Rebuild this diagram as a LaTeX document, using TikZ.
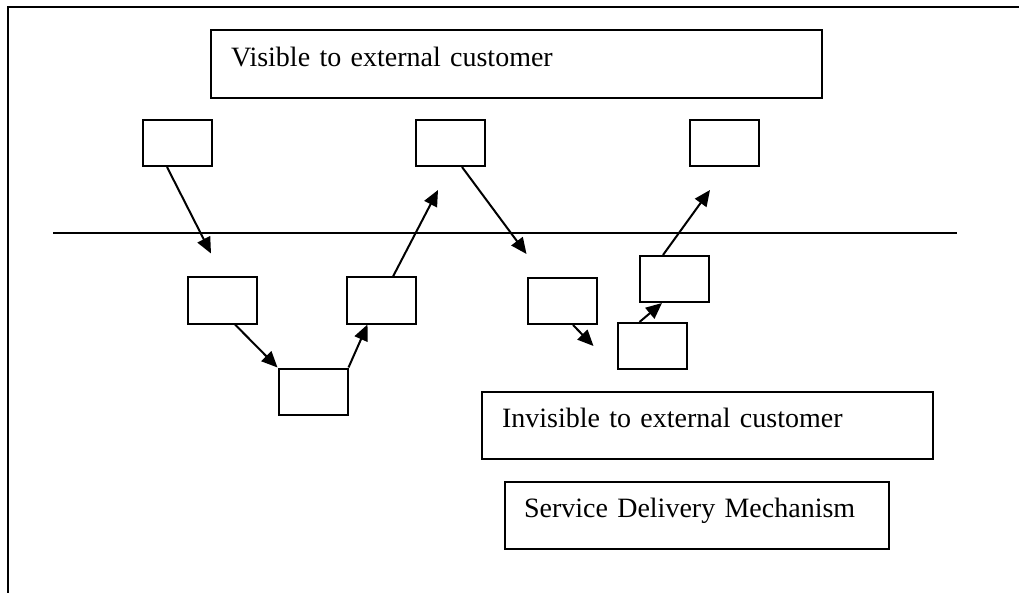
\documentclass[tikz,border=0pt]{standalone}
\usepackage{fontspec}
\setmainfont{Liberation Serif}
\usepackage{tikz}
\usetikzlibrary{arrows.meta, positioning, calc}

\begin{document}
\begin{tikzpicture}[
  x=1pt, y=-1pt,
  font=\fontsize{28}{32}\selectfont,
  >={Triangle[length=16pt,width=14pt]},
  stepbox/.style={draw,line width=2pt,minimum width=69pt,minimum height=46pt,inner sep=0pt},
  panel/.style={draw,line width=2pt,align=left,inner xsep=20pt,inner ysep=0pt,text height=20pt,text depth=15.5pt},
  arr/.style={->,line width=2pt},
  rule/.style={line width=2pt}
]
\useasboundingbox (0,0) rectangle (1019,593);
\draw[rule] (8,593) -- (8,7) -- (1019,7);

\node[panel,text width=571pt,minimum height=68pt] (visible) at (516.5,64) {Visible to external customer};
\node[stepbox] (a1) at (177.5,143) {};
\node[stepbox,right=202pt of a1] (a2) {};
\node[stepbox,right=203pt of a2] (a3) {};

\draw[rule] (53,233) -- (957,233);

\node[stepbox] (b1) at (222.5,300.5) {};
\node[stepbox] (b2) at (313,391.5) {};
\node[stepbox] (b3) at (381,300.5) {};
\node[stepbox] (b4) at (562,301) {};
\node[stepbox] (b5) at (652,346) {};
\node[stepbox] (b6) at (674,279) {};

\node[panel,text width=411pt,minimum height=67pt] (invisible) at (707.5,425.5) {Invisible to external customer};
\node[panel,inner xsep=19pt,text width=346pt,minimum height=67pt] (mechanism) at (697,515.5) {Service Delivery Mechanism};

\draw[arr] ($(a1.south)+(-10.5,0)$) -- ($(b1.north west)+(24,-23)$);
\draw[arr] ($(b1.south)+(12.5,0)$) -- (b2.north west);
\draw[arr] (b2.north east) -- ($(b3.south west)+(22,0)$);
\draw[arr] ($(b3.north)+(12,0)$) -- ($(a2.south west)+(23,23)$);
\draw[arr] ($(a2.south)+(11.5,0)$) -- ($(b4.north west)+(0,-23)$);
\draw[arr] ($(b4.south)+(11,0)$) -- ($(b5.west)+(-23,0)$);
\draw[arr] ($(b5.north west)+(23,0)$) -- ($(b6.south)+(-12,0)$);
\draw[arr] ($(b6.north)+(-11,0)$) -- ($(a3.south west)+(21,23)$);
\end{tikzpicture}
\end{document}
